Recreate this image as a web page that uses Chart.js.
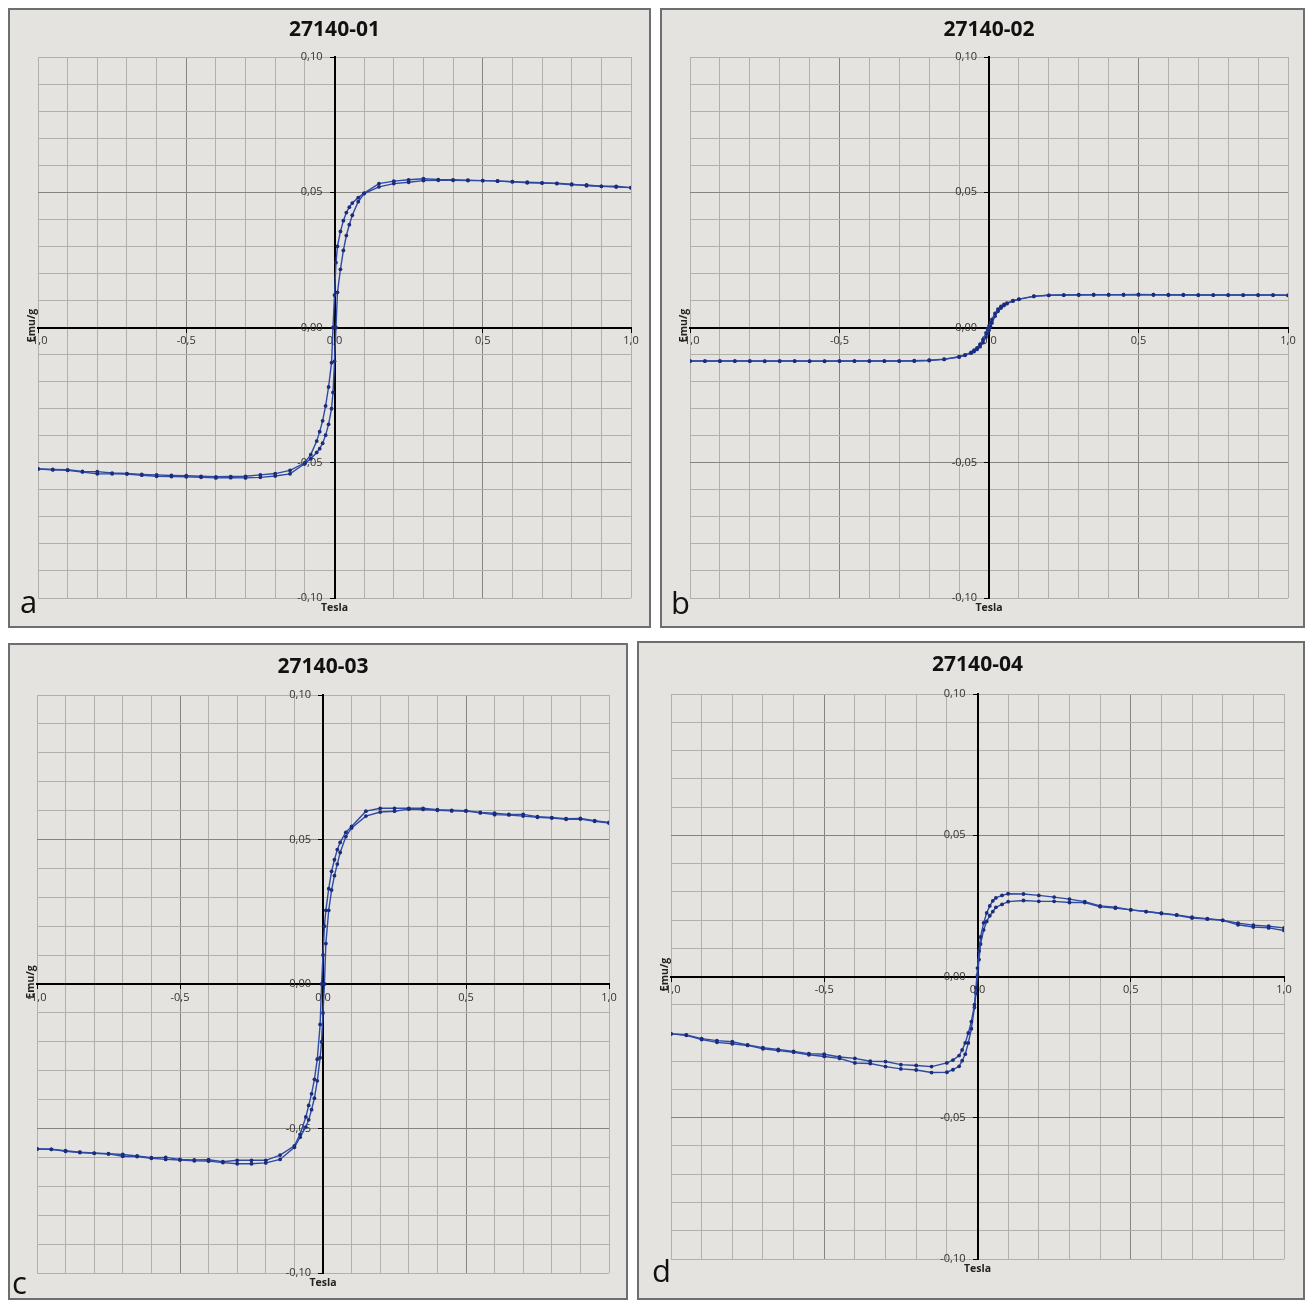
<!DOCTYPE html>
<html><head><meta charset="utf-8">
<script src="https://cdn.jsdelivr.net/npm/chart.js@4.4.1/dist/chart.umd.min.js"></script>
<style>
html,body{margin:0;padding:0;background:#fff;}
body{width:1306px;height:1302px;position:relative;overflow:hidden;font-family:"Open Sans",sans-serif;}
.panel{position:absolute;box-sizing:border-box;border:2px solid #6e6e6e;background:#e5e3df;}
.panel canvas{position:absolute;left:0;top:0;}
.letter{position:absolute;font:31px "Open Sans",sans-serif;line-height:31px;color:#111;z-index:5;}
</style></head><body>
<script>
// ---------- DATA ----------
const panelTitles = ['27140-01', '27140-02', '27140-03', '27140-04'];
const panelLetters = ['a', 'b', 'c', 'd'];
const xAxisTitle = 'Tesla';
const yAxisTitle = 'Emu/g';
const xTickLabels = ['-1,0', '-0,5', '0,0', '0,5', '1,0'];
const yTickLabels = ['-0,10', '-0,05', '0,00', '0,05', '0,10'];

// applied field, descending branch (+1 T -> -1 T)
const fieldDown = [1.0,0.95,0.9,0.85,0.8,0.75,0.7,0.65,0.6,0.55,0.5,0.45,0.4,0.35,0.3,0.25,0.2,0.15,
  0.1,0.08,0.06,0.05,0.04,0.03,0.02,0.01,0.005,
  0,
  -0.005,-0.01,-0.02,-0.03,-0.04,-0.05,-0.06,-0.08,-0.1,
  -0.15,-0.2,-0.25,-0.3,-0.35,-0.4,-0.45,-0.5,-0.55,-0.6,-0.65,-0.7,-0.75,-0.8,-0.85,-0.9,-0.95,-1.0];
// applied field, ascending branch (-1 T -> +1 T)
const fieldUp = [-1.0,-0.95,-0.9,-0.85,-0.8,-0.75,-0.7,-0.65,-0.6,-0.55,-0.5,-0.45,-0.4,-0.35,-0.3,-0.25,-0.2,-0.15,
  -0.1,-0.08,-0.06,-0.05,-0.04,-0.03,-0.02,-0.01,-0.005,
  0,
  0.005,0.01,0.02,0.03,0.04,0.05,0.06,0.08,0.1,
  0.15,0.2,0.25,0.3,0.35,0.4,0.45,0.5,0.55,0.6,0.65,0.7,0.75,0.8,0.85,0.9,0.95,1.0];

// 27140-01
const momentDown01 = [0.0517,0.0522,0.0522,0.0527,0.0528,0.0532,0.0535,0.0537,0.0539,0.0541,0.0543,0.0545,0.0546,0.0547,0.0550,0.0546,0.0541,0.0532,
  0.0497,0.0480,0.0460,0.0445,0.0425,0.0395,0.0355,0.0300,0.0240,
  0.0120,
  0.0,-0.0130,-0.0220,-0.0290,-0.0345,-0.0385,-0.0420,-0.0470,-0.0500,
  -0.0528,-0.0540,-0.0545,-0.0550,-0.0551,-0.0552,-0.0550,-0.0548,-0.0547,-0.0545,-0.0543,-0.0540,-0.0538,-0.0533,-0.0532,-0.0526,-0.0525,-0.0523];
const momentUp01 = [-0.0523,-0.0526,-0.0528,-0.0534,-0.0541,-0.0541,-0.0542,-0.0546,-0.0550,-0.0551,-0.0552,-0.0554,-0.0556,-0.0555,-0.0556,-0.0554,-0.0549,-0.0541,
  -0.0503,-0.0485,-0.0462,-0.0448,-0.0428,-0.0398,-0.0358,-0.0300,-0.0240,
  -0.0125,
  0.0,0.0130,0.0215,0.0285,0.0340,0.0380,0.0415,0.0465,0.0495,
  0.0520,0.0532,0.0537,0.0543,0.0544,0.0544,0.0543,0.0543,0.0542,0.0539,0.0535,0.0534,0.0533,0.0530,0.0524,0.0522,0.0519,0.0517];

// 27140-02
const momentDown02 = [0.0119,0.0120,0.0120,0.0120,0.0120,0.0120,0.0120,0.0121,0.0121,0.0121,0.0122,0.0121,0.0121,0.0121,0.0121,0.0120,0.0119,0.0116,
  0.0105,0.0099,0.0090,0.0085,0.0078,0.0068,0.0052,0.0030,0.0018,
  0.0006,
  -0.0005,-0.0020,-0.0045,-0.0062,-0.0075,-0.0084,-0.0092,-0.0101,-0.0108,
  -0.0117,-0.0121,-0.0123,-0.0124,-0.0124,-0.0124,-0.0124,-0.0124,-0.0125,-0.0124,-0.0124,-0.0124,-0.0124,-0.0124,-0.0124,-0.0124,-0.0124,-0.0124];
const momentUp02 = [-0.0124,-0.0124,-0.0124,-0.0124,-0.0124,-0.0125,-0.0124,-0.0124,-0.0125,-0.0124,-0.0124,-0.0124,-0.0124,-0.0124,-0.0124,-0.0124,-0.0122,-0.0118,
  -0.0109,-0.0103,-0.0095,-0.0089,-0.0081,-0.0071,-0.0056,-0.0035,-0.0022,
  -0.0010,
  0.0003,0.0017,0.0042,0.0060,0.0072,0.0081,0.0088,0.0098,0.0104,
  0.0115,0.0119,0.0120,0.0120,0.0121,0.0121,0.0121,0.0121,0.0121,0.0120,0.0120,0.0120,0.0120,0.0120,0.0120,0.0120,0.0120,0.0119];

// 27140-03
const momentDown03 = [0.0559,0.0565,0.0573,0.0572,0.0576,0.0579,0.0587,0.0587,0.0591,0.0594,0.0600,0.0601,0.0603,0.0608,0.0608,0.0608,0.0608,0.0598,
  0.0545,0.0525,0.0490,0.0465,0.0430,0.0390,0.0330,0.0255,0.0200,
  0.0100,
  0.0,-0.0140,-0.0260,-0.0330,-0.0380,-0.0420,-0.0460,-0.0520,-0.0560,
  -0.0592,-0.0610,-0.0610,-0.0610,-0.0615,-0.0608,-0.0609,-0.0607,-0.0600,-0.0601,-0.0595,-0.0590,-0.0587,-0.0585,-0.0582,-0.0577,-0.0572,-0.0571];
const momentUp03 = [-0.0571,-0.0572,-0.0579,-0.0583,-0.0586,-0.0588,-0.0596,-0.0597,-0.0603,-0.0607,-0.0609,-0.0612,-0.0613,-0.0618,-0.0622,-0.0622,-0.0619,-0.0607,
  -0.0565,-0.0530,-0.0495,-0.0470,-0.0435,-0.0395,-0.0335,-0.0255,-0.0200,
  -0.0100,
  0.0,0.0140,0.0255,0.0325,0.0375,0.0415,0.0455,0.0510,0.0540,
  0.0581,0.0595,0.0598,0.0605,0.0604,0.0601,0.0599,0.0598,0.0592,0.0586,0.0585,0.0581,0.0577,0.0574,0.0570,0.0571,0.0563,0.0557];

// 27140-04
const momentDown04 = [0.0172,0.0178,0.0182,0.0189,0.0199,0.0205,0.0210,0.0218,0.0224,0.0230,0.0236,0.0245,0.0250,0.0265,0.0274,0.0281,0.0287,0.0292,
  0.0293,0.0287,0.0278,0.0268,0.0250,0.0225,0.0190,0.0140,0.0090,
  0.0030,
  -0.0040,-0.0100,-0.0160,-0.0200,-0.0235,-0.0260,-0.0280,-0.0296,-0.0306,
  -0.0319,-0.0315,-0.0312,-0.0301,-0.0300,-0.0290,-0.0285,-0.0275,-0.0273,-0.0265,-0.0258,-0.0252,-0.0242,-0.0231,-0.0227,-0.0220,-0.0207,-0.0203];
const momentUp04 = [-0.0203,-0.0208,-0.0223,-0.0233,-0.0238,-0.0244,-0.0256,-0.0262,-0.0268,-0.0277,-0.0283,-0.0290,-0.0306,-0.0308,-0.0319,-0.0327,-0.0331,-0.0340,
  -0.0339,-0.0330,-0.0318,-0.0298,-0.0275,-0.0235,-0.0185,-0.0110,-0.0060,
  0.0005,
  0.0060,0.0115,0.0165,0.0195,0.0215,0.0230,0.0245,0.0255,0.0265,
  0.0269,0.0266,0.0266,0.0262,0.0262,0.0247,0.0242,0.0236,0.0230,0.0223,0.0217,0.0207,0.0203,0.0199,0.0183,0.0175,0.0172,0.0163];

const panelSeries = [
  [momentDown01, momentUp01],
  [momentDown02, momentUp02],
  [momentDown03, momentUp03],
  [momentDown04, momentUp04]
];

// ---------- LAYOUT (page pixels) ----------
const panelLayout = [
  {box: [8, 8, 651, 628],     plot: [38, 631, 57, 598],    titleY: 30,  letter: [20, 586]},
  {box: [660, 8, 1305, 628],  plot: [690, 1288, 57, 598],  titleY: 30,  letter: [671, 587]},
  {box: [8, 643, 628, 1300],  plot: [37, 609, 695, 1273],  titleY: 667, letter: [12, 1267]},
  {box: [637, 641, 1305, 1300], plot: [671, 1284, 694, 1259], titleY: 665, letter: [652, 1255]}
];

const minorGrid = '#b3afa9';
const majorGrid = '#87837e';
const lineColor = '#2d4aa6';
const pointColor = '#1a2c7c';
const titleSize = 21;

function gridColorFn(mult) {
  return (c) => {
    if (!c.tick) return minorGrid;
    const k = Math.round(c.tick.value * mult);
    if (k === 0) return 'rgba(0,0,0,0)';
    if (Math.abs(k) === 10) return minorGrid;
    return (k % 5 === 0) ? majorGrid : minorGrid;
  };
}
function tickColorFn(mult) {
  return (c) => {
    if (!c.tick) return 'rgba(0,0,0,0)';
    const k = Math.round(c.tick.value * mult);
    return (k % 5 === 0) ? '#000' : 'rgba(0,0,0,0)';
  };
}

const axisTitlePlugin = {
  id: 'axisTitles',
  afterDraw(chart) {
    const {ctx, chartArea, scales} = chart;
    ctx.save();
    ctx.fillStyle = '#222';
    ctx.font = 'bold 10.5px "Open Sans"';
    ctx.textAlign = 'center';
    ctx.textBaseline = 'middle';
    ctx.fillText(xAxisTitle, scales.x.getPixelForValue(0), chartArea.bottom + 10);
    ctx.translate(chartArea.left - 6, scales.y.getPixelForValue(0) - 2);
    ctx.rotate(-Math.PI / 2);
    ctx.fillText(yAxisTitle, 0, 0);
    ctx.restore();
  }
};

panelLayout.forEach((L, i) => {
  const [bx1, by1, bx2, by2] = L.box;
  const div = document.createElement('div');
  div.className = 'panel';
  div.style.left = bx1 + 'px';
  div.style.top = by1 + 'px';
  div.style.width = (bx2 - bx1) + 'px';
  div.style.height = (by2 - by1) + 'px';
  const cw = bx2 - bx1 - 4, ch = by2 - by1 - 4;
  const ox = bx1 + 2, oy = by1 + 2;
  const canvas = document.createElement('canvas');
  canvas.width = cw; canvas.height = ch;
  canvas.style.width = cw + 'px'; canvas.style.height = ch + 'px';
  div.appendChild(canvas);
  document.body.appendChild(div);

  const letter = document.createElement('div');
  letter.className = 'letter';
  letter.style.left = L.letter[0] + 'px';
  letter.style.top = L.letter[1] + 'px';
  letter.textContent = panelLetters[i];
  document.body.appendChild(letter);

  const [pl, pr, pt, pb] = L.plot;
  const titleH = titleSize * 1.2;
  const tPadTop = L.titleY - oy - titleH / 2;
  const tPadBottom = (pt - oy) - tPadTop - titleH;

  const [down, up] = panelSeries[i];
  const datasets = [
    {data: fieldDown.map((f, j) => ({x: f, y: down[j]}))},
    {data: fieldUp.map((f, j) => ({x: f, y: up[j]}))}
  ].map(d => Object.assign(d, {
    showLine: true,
    borderColor: lineColor,
    borderWidth: 1.4,
    pointRadius: 1.9,
    pointBackgroundColor: pointColor,
    pointBorderWidth: 0,
    tension: 0
  }));

  new Chart(canvas, {
    type: 'scatter',
    data: {datasets},
    options: {
      responsive: false,
      animation: false,
      devicePixelRatio: 1,
      layout: {padding: {left: pl - ox, right: (ox + cw) - pr, top: 0, bottom: (oy + ch) - pb}},
      plugins: {
        legend: {display: false},
        tooltip: {enabled: false},
        title: {
          display: true,
          text: panelTitles[i],
          color: '#111',
          font: {family: '"Open Sans"', size: titleSize, weight: 'bold', lineHeight: 1.2},
          padding: {top: tPadTop, bottom: tPadBottom}
        }
      },
      scales: {
        x: {
          type: 'linear',
          min: -1, max: 1,
          position: {y: 0},
          grid: {color: gridColorFn(10), lineWidth: 1, tickLength: 4, tickColor: tickColorFn(10), tickWidth: 1},
          border: {display: true, color: '#000', width: 2},
          ticks: {
            stepSize: 0.1, autoSkip: false, maxRotation: 0, minRotation: 0, padding: 3,
            color: '#333', font: {family: '"Open Sans"', size: 11},
            callback: (v) => {
              const k = Math.round(v * 10);
              return (k % 5 === 0) ? xTickLabels[k / 5 + 2] : '';
            }
          }
        },
        y: {
          type: 'linear',
          min: -0.1, max: 0.1,
          position: 'center',
          grid: {color: gridColorFn(100), lineWidth: 1, tickLength: 4, tickColor: tickColorFn(100), tickWidth: 1},
          border: {display: true, color: '#000', width: 2},
          ticks: {
            stepSize: 0.01, autoSkip: false, padding: 8,
            color: '#333', font: {family: '"Open Sans"', size: 11},
            callback: (v) => {
              const k = Math.round(v * 100);
              return (k % 5 === 0) ? yTickLabels[k / 5 + 2] : '';
            }
          }
        }
      }
    },
    plugins: [axisTitlePlugin]
  });
});
</script>
</body></html>
